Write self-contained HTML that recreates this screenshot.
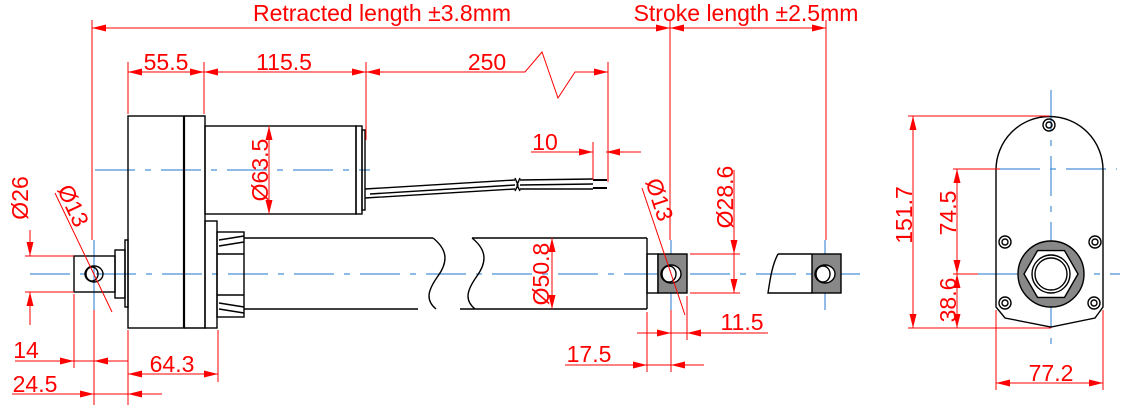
<!DOCTYPE html>
<html><head><meta charset="utf-8"><style>
html,body{margin:0;padding:0;background:#fff;}
svg{display:block;}
text{font-family:"Liberation Sans",sans-serif;fill:#ff0000;font-size:23px;}
</style></head><body>
<svg width="1122" height="405" viewBox="0 0 1122 405" xmlns="http://www.w3.org/2000/svg">
<defs>
<marker id="a" viewBox="0 0 14 7" refX="14" refY="3.5" markerWidth="14" markerHeight="7" markerUnits="userSpaceOnUse" orient="auto-start-reverse"><path d="M0,0 L14,3.5 L0,7z" fill="#ff0000"/></marker>
</defs>
<g stroke="#4a90d9" stroke-width="1.2" fill="none">
<line x1="30" y1="274" x2="860" y2="274" stroke-dasharray="40,10,6,10"/>
<line x1="95" y1="170" x2="370" y2="170" stroke-dasharray="40,10,6,10"/>
<line x1="94" y1="240" x2="94" y2="310"/>
<line x1="671" y1="240" x2="671" y2="310"/>
<line x1="825" y1="240" x2="825" y2="310"/>
<line x1="978" y1="274" x2="1120" y2="274" stroke-dasharray="40,10,6,10"/>
<line x1="1051" y1="90" x2="1051" y2="345" stroke-dasharray="40,10,6,10"/>
<line x1="1000" y1="169" x2="1117" y2="169" stroke-dasharray="40,10,6,10"/>
</g>
<g stroke="#000" stroke-width="1.4" fill="none">
<rect x="128" y="116" width="56" height="212"/>
<line x1="184" y1="116" x2="184" y2="328" stroke-width="2.2"/>
<polyline points="184,116 205,116 205,328 184,328"/>
<rect x="205" y="221" width="12" height="107"/>
<rect x="205" y="126" width="151" height="88"/>
<rect x="356" y="126" width="6" height="88"/>
<rect x="362" y="130" width="3" height="80"/>
<rect x="217" y="232" width="27" height="85"/>
<line x1="217" y1="254" x2="244" y2="254"/><line x1="217" y1="295" x2="244" y2="295"/>
<line x1="219" y1="240" x2="244" y2="236"/><line x1="219" y1="246" x2="244" y2="242"/>
<line x1="219" y1="303" x2="244" y2="307"/><line x1="219" y1="309" x2="244" y2="313"/>
<line x1="244" y1="238" x2="433" y2="238"/><line x1="244" y1="309" x2="418" y2="309"/>
<path d="M433,238 C448,250 448,262 438,276 C428,290 425,300 436,309"/>
<path d="M472,238 C487,250 487,262 477,276 C467,290 464,300 475,309"/>
<line x1="472" y1="238" x2="647" y2="238"/><line x1="460" y1="309" x2="647" y2="309"/>
<line x1="647" y1="238" x2="647" y2="309"/>
<rect x="74" y="256" width="41" height="36"/>
<rect x="115" y="250" width="10" height="48"/>
<rect x="125" y="240" width="3" height="67"/>
<ellipse cx="94" cy="274" rx="9" ry="8"/><ellipse cx="92" cy="274" rx="6" ry="7"/>
<rect x="647" y="254" width="11" height="39"/>
<rect x="658" y="254" width="29" height="39" fill="#888"/>
<ellipse cx="671" cy="274" rx="10" ry="9" fill="#fff"/><ellipse cx="669" cy="274" rx="7" ry="8"/>
<path d="M778,254 L812,254 M778,293 L812,293 M778,254 C772,265 770,280 768,293 L778,293"/>
<rect x="812" y="254" width="29" height="39" fill="#888"/>
<ellipse cx="825" cy="274" rx="10" ry="9" fill="#fff"/><ellipse cx="823" cy="274" rx="7" ry="8"/>
<path d="M365,189 L515,180 M520,180 L593,179 M365,198 L515,189 M520,189 L593,189 M370,194 L515,185 M520,185 L593,184"/>
<path d="M515,178 L518,185 L515,191 M520,178 L517,185 L520,191"/>
<line x1="593" y1="180" x2="607" y2="180" stroke-width="2"/><line x1="593" y1="188" x2="607" y2="188" stroke-width="2"/>
<path d="M996,307 L996,170 A53.5,53.5 0 0 1 1103,170 L1103,307 L1095,318 L1051,327 L1005,318 Z"/>
<circle cx="1051" cy="274" r="33" fill="#888"/>
<polygon points="1078,274 1064.5,297.4 1037.5,297.4 1024,274 1037.5,250.6 1064.5,250.6" fill="#fff"/>
<circle cx="1051" cy="274" r="19"/><circle cx="1051" cy="274" r="16"/>
<circle cx="1049" cy="125" r="6"/><circle cx="1049" cy="125" r="3"/>
<circle cx="1005" cy="242" r="6"/><circle cx="1005" cy="242" r="3"/>
<circle cx="1095" cy="242" r="6"/><circle cx="1095" cy="242" r="3"/>
<circle cx="1005" cy="303" r="6"/><circle cx="1005" cy="303" r="3"/>
<circle cx="1094" cy="303" r="6"/><circle cx="1094" cy="303" r="3"/>
</g>
<g stroke="#ff0000" stroke-width="1" fill="none">
<line x1="92" y1="20" x2="92" y2="240"/><line x1="94" y1="310" x2="94" y2="405"/>
<line x1="670" y1="20" x2="670" y2="240"/><line x1="671" y1="310" x2="671" y2="372"/>
<line x1="826" y1="20" x2="826" y2="240"/>
<line x1="128" y1="62" x2="128" y2="114"/><line x1="128" y1="330" x2="128" y2="405"/>
<line x1="204" y1="62" x2="204" y2="114"/>
<line x1="366" y1="62" x2="366" y2="140"/>
<line x1="608" y1="62" x2="608" y2="182"/><line x1="593" y1="142" x2="593" y2="180"/>
<line x1="74" y1="294" x2="74" y2="368"/><line x1="218" y1="330" x2="218" y2="382"/>
<line x1="647" y1="312" x2="647" y2="372"/><line x1="687" y1="296" x2="687" y2="340"/>
<line x1="25" y1="256" x2="74" y2="256"/><line x1="25" y1="292" x2="74" y2="292"/>
<line x1="690" y1="254" x2="740" y2="254"/><line x1="690" y1="293" x2="740" y2="293"/>
<line x1="908" y1="116" x2="1049" y2="116"/><line x1="908" y1="328" x2="1051" y2="328"/>
<line x1="953" y1="169" x2="1000" y2="169"/><line x1="953" y1="274" x2="978" y2="274"/>
<line x1="996" y1="310" x2="996" y2="390"/><line x1="1103" y1="310" x2="1103" y2="390"/>
<line x1="92" y1="28" x2="670" y2="28" marker-start="url(#a)" marker-end="url(#a)"/>
<line x1="670" y1="28" x2="826" y2="28" marker-start="url(#a)" marker-end="url(#a)"/>
<line x1="128" y1="72" x2="204" y2="72" marker-start="url(#a)" marker-end="url(#a)"/>
<line x1="204" y1="72" x2="366" y2="72" marker-start="url(#a)" marker-end="url(#a)"/>
<polyline points="366,72 525,72 542,52 558,98 575,72 608,72" marker-start="url(#a)" marker-end="url(#a)"/>
<line x1="269" y1="126" x2="269" y2="214" marker-start="url(#a)" marker-end="url(#a)"/>
<line x1="552" y1="238" x2="552" y2="309" marker-start="url(#a)" marker-end="url(#a)"/>
<line x1="128" y1="374" x2="218" y2="374" marker-start="url(#a)" marker-end="url(#a)"/>
<line x1="913" y1="116" x2="913" y2="328" marker-start="url(#a)" marker-end="url(#a)"/>
<line x1="957" y1="169" x2="957" y2="274" marker-start="url(#a)" marker-end="url(#a)"/>
<line x1="957" y1="274" x2="957" y2="328" marker-start="url(#a)" marker-end="url(#a)"/>
<line x1="996" y1="383" x2="1103" y2="383" marker-start="url(#a)" marker-end="url(#a)"/>
<line x1="734" y1="170" x2="734" y2="254" marker-end="url(#a)"/><line x1="734" y1="293" x2="734" y2="254"/><line x1="734" y1="272" x2="734" y2="293" marker-end="url(#a)"/>
<line x1="30" y1="230" x2="30" y2="256" marker-end="url(#a)"/><line x1="30" y1="325" x2="30" y2="292" marker-end="url(#a)"/>
<line x1="15" y1="361" x2="74" y2="361" marker-end="url(#a)"/><line x1="128" y1="361" x2="94" y2="361" marker-end="url(#a)"/><line x1="74" y1="361" x2="94" y2="361"/>
<line x1="12" y1="394" x2="94" y2="394" marker-end="url(#a)"/><line x1="162" y1="394" x2="128" y2="394" marker-end="url(#a)"/><line x1="94" y1="394" x2="128" y2="394"/>
<line x1="531" y1="152" x2="593" y2="152" marker-end="url(#a)"/><line x1="641" y1="152" x2="606" y2="152" marker-end="url(#a)"/>
<line x1="637" y1="333" x2="671" y2="333" marker-end="url(#a)"/><line x1="768" y1="333" x2="687" y2="333" marker-end="url(#a)"/><line x1="671" y1="333" x2="687" y2="333"/>
<line x1="565" y1="365" x2="647" y2="365" marker-end="url(#a)"/><line x1="704" y1="365" x2="671" y2="365" marker-end="url(#a)"/><line x1="647" y1="365" x2="671" y2="365"/>
<line x1="55" y1="193" x2="112" y2="312"/>
<line x1="642" y1="188" x2="685" y2="315"/>
</g>
<text x="382" y="21" text-anchor="middle">Retracted length ±3.8mm</text>
<text x="746" y="21" text-anchor="middle">Stroke length ±2.5mm</text>
<text x="166" y="70" text-anchor="middle">55.5</text>
<text x="284" y="70" text-anchor="middle">115.5</text>
<text x="487" y="70" text-anchor="middle">250</text>
<text x="545" y="150" text-anchor="middle">10</text>
<text x="26" y="358" text-anchor="middle">14</text>
<text x="35" y="392" text-anchor="middle">24.5</text>
<text x="172" y="372" text-anchor="middle">64.3</text>
<text x="589" y="362" text-anchor="middle">17.5</text>
<text x="742" y="330" text-anchor="middle">11.5</text>
<text x="1051" y="381" text-anchor="middle">77.2</text>
<text transform="translate(268,170) rotate(-90)" text-anchor="middle">Ø63.5</text>
<text transform="translate(549,274) rotate(-90)" text-anchor="middle">Ø50.8</text>
<text transform="translate(733,197) rotate(-90)" text-anchor="middle">Ø28.6</text>
<text transform="translate(28,198) rotate(-90)" text-anchor="middle">Ø26</text>
<text transform="translate(912,215) rotate(-90)" text-anchor="middle">151.7</text>
<text transform="translate(956,213) rotate(-90)" text-anchor="middle">74.5</text>
<text transform="translate(956,300) rotate(-90)" text-anchor="middle">38.6</text>
<text transform="translate(66,209) rotate(65)" text-anchor="middle">Ø13</text>
<text transform="translate(652,202) rotate(72)" text-anchor="middle">Ø13</text>
</svg>
</body></html>
